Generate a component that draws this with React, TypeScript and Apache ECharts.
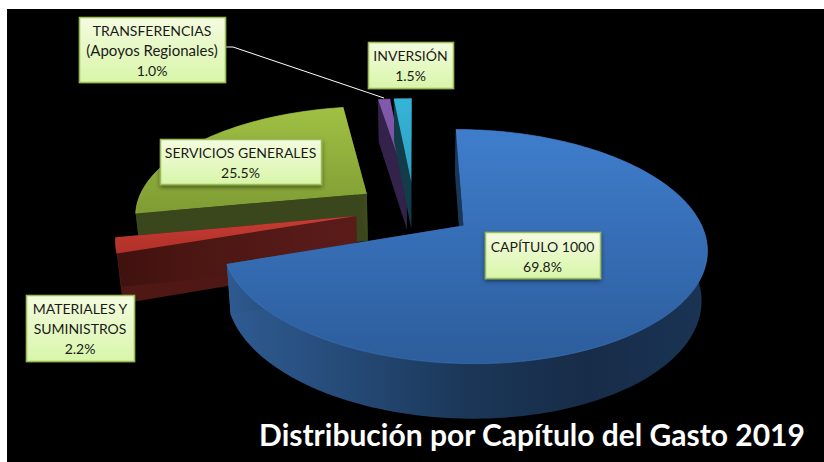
import React, { useEffect, useRef } from "react";
import * as echarts from "echarts";

const categories = ["CAPÍTULO 1000", "MATERIALES Y SUMINISTROS", "SERVICIOS GENERALES", "TRANSFERENCIAS (Apoyos Regionales)", "INVERSIÓN"];
const shares = [69.8, 2.2, 25.5, 1.0, 1.5];
const titleText = "Distribución por Capítulo del Gasto 2019";

const topColors = [
  ["#3f7dcc", "#2c5d9c"],
  ["#c63d34", "#b03029"],
  ["#a0c043", "#7f9c34"],
  ["#8359ad", "#74509c"],
  ["#35b4d8", "#2e9fbf"],
];
const wallColors = [
  ["#2f5b92", "#254a77", "#1b3758", "#172c48", "#1a3455"],
  ["#3e110f", "#4a1512", "#4f1815", "#561a18", "#5a1c19"],
  ["#343f18", "#36411a", "#3a461b", "#3c481c", "#3f4c1d"],
  ["#2e2044", "#33234a", "#33234a", "#33234a", "#2e2044"],
  ["#0f3644", "#123c4a", "#123c4a", "#123c4a", "#0f3644"],
];
const zOrder = [50, 40, 20, 10, 12];

const CX = 414, CY = 209, RX = 232, RY = 107.4, K = 0.176, EXPLODE = 0.255;

function project(u: number, v: number) {
  const s = 1 / (1 - K * v);
  return { x: CX + RX * u * s, y: CY + RY * v * s, s };
}
function lower(p: { x: number; y: number; s: number }) {
  return [CX + (p.x - CX) * 0.98, p.y + 20 + 28 * p.s];
}

function gradient(vertical: boolean, colors: string[]) {
  return {
    type: "linear", x: 0, y: 0, x2: vertical ? 0 : 1, y2: vertical ? 1 : 0,
    colorStops: colors.map((color, i) => ({ offset: i / (colors.length - 1), color })),
  };
}

function renderSlice(params: any, api: any) {
  const i = params.dataIndex;
  const total = shares.reduce((a, b) => a + b, 0);
  const before = shares.slice(0, i).reduce((a, b) => a + b, 0);
  const a0 = (before / total) * Math.PI * 2;
  const a1 = a0 + (api.value(0) / total) * Math.PI * 2;
  const mid = (a0 + a1) / 2;
  const ou = Math.sin(mid) * EXPLODE, ov = -Math.cos(mid) * EXPLODE;
  const apex = project(ou, ov);
  const steps = Math.max(6, Math.round((a1 - a0) * 40));
  const arc: any[] = [];
  for (let n = 0; n <= steps; n++) {
    const a = a0 + ((a1 - a0) * n) / steps;
    arc.push(project(ou + Math.sin(a), ov - Math.cos(a)));
  }
  const pt = (p: any) => [p.x, p.y];
  const z = zOrder[i];
  const wall = gradient(false, wallColors[i]);
  const solid = wallColors[i][2];
  const first = arc[0], last = arc[arc.length - 1];
  const children: any[] = [
    { type: "polygon", silent: true, z2: z, shape: { points: [...arc.map(pt), ...arc.slice().reverse().map(lower)] }, style: { fill: wall } },
    { type: "polygon", silent: true, z2: z + 1, shape: { points: [pt(apex), pt(first), lower(first), lower(apex)] }, style: { fill: solid } },
    { type: "polygon", silent: true, z2: z + 1, shape: { points: [pt(apex), pt(last), lower(last), lower(apex)] }, style: { fill: wall } },
    { type: "polygon", silent: true, z2: z + 2, shape: { points: [pt(apex), ...arc.map(pt)] }, style: { fill: gradient(true, topColors[i]) } },
    { type: "polyline", silent: true, z2: z + 3, shape: { points: arc.map(pt) }, style: { fill: "none", stroke: topColors[i][0], lineWidth: 1, opacity: 0.6 } },
  ];
  return { type: "group", children };
}

function labelBox(x: number, y: number, w: number, h: number, lines: string[], lineYs: number[], sizes?: number[]) {
  return [
    {
      type: "rect", z: 100, silent: true,
      shape: { x: x + 0.5, y: y + 0.5, width: w, height: h },
      style: {
        fill: new echarts.graphic.LinearGradient(0, 0, 0, 1, [
          { offset: 0, color: "#f4fbdf" },
          { offset: 1, color: "#d8f6a9" },
        ]),
        stroke: "#9bbb59", lineWidth: 1.5,
        shadowBlur: 4, shadowColor: "rgba(0,0,0,0.5)", shadowOffsetY: 2,
      },
    },
    ...lines.map((t, n) => ({
      type: "text", z: 101, silent: true, x: x + w / 2, y: lineYs[n],
      style: { text: t, fill: "#1a1a1a", font: `${sizes ? sizes[n] : 14}px Lato`, textAlign: "center", textVerticalAlign: "middle" },
    })),
  ];
}

export default function App() {
  const ref = useRef<HTMLDivElement>(null);
  useEffect(() => {
    document.body.style.margin = "0";
    const chart = echarts.init(ref.current!, null, { renderer: "svg" });
    chart.setOption({
      animation: false,
      backgroundColor: "#ffffff",
      graphic: [
        { type: "rect", z: -1, silent: true, shape: { x: 7, y: 9, width: 817, height: 453 }, style: { fill: "#000000" } },
        { type: "polyline", z: 90, silent: true, shape: { points: [[225, 47], [233, 47], [384, 98]] }, style: { fill: "none", stroke: "#ffffff", lineWidth: 1 } },
        ...labelBox(79, 17, 146, 65, ["TRANSFERENCIAS", "(Apoyos Regionales)", `${shares[3].toFixed(1)}%`], [30, 50, 70], [14, 15, 14]),
        ...labelBox(368, 42, 85, 46, ["INVERSIÓN", `${shares[4].toFixed(1)}%`], [55, 75]),
        ...labelBox(160, 139, 161, 45, [categories[2], `${shares[2].toFixed(1)}%`], [152, 172]),
        ...labelBox(485, 232, 115, 46, [categories[0], `${shares[0].toFixed(1)}%`], [246, 266]),
        ...labelBox(26, 295, 108, 66, ["MATERIALES Y", "SUMINISTROS", `${shares[1].toFixed(1)}%`], [308, 328, 348]),
        {
          type: "text", z: 101, silent: true, x: 532, y: 434,
          style: { text: titleText, fill: "#ffffff", font: 'bold 30px Lato', textAlign: "center", textVerticalAlign: "middle" },
        },
      ],
      series: [
        {
          type: "custom",
          coordinateSystem: "none",
          silent: true,
          clip: false,
          renderItem: renderSlice,
          data: shares.map((v, i) => ({ name: categories[i], value: [v] })),
        },
      ],
    });
    return () => chart.dispose();
  }, []);
  return <div ref={ref} style={{ width: 824, height: 462 }} />;
}
